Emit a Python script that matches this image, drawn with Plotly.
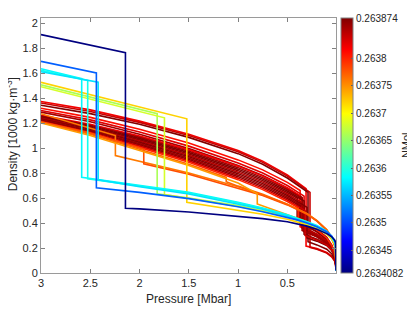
import plotly.graph_objects as go
from plotly.colors import sample_colorscale

NMOL_MIN = 0.2634082
NMOL_MAX = 0.263874

# ---- data: one entry per curve (NMol, pressure [Mbar], density [1000 kg/m3]) ----
# curves are listed in drawing order
curve_nmol = [
    0.26382, 0.26384, 0.263874, 0.26381, 0.26383, 0.26386,
    0.26382, 0.26386, 0.263874, 0.26387, 0.26385, 0.263874, 0.26386, 0.26387, 0.26384, 0.2638,
    0.26376, 0.26378, 0.26377, 0.263745,
    0.26372, 0.26366, 0.26368,
    0.26358, 0.26359, 0.26357,
    0.26351, 0.2634082,
]

curve_pressure = [
    [3, 2.5, 2, 1.5, 1, 0.75, 0.5, 0.4, 0.31, 0.31, 0.2, 0.1, 0.05, 0.02, 0.01, 0.006],
    [3, 2.5, 2, 1.5, 1, 0.75, 0.5, 0.4, 0.27, 0.27, 0.2, 0.1, 0.05, 0.02, 0.01, 0.006],
    [3, 2.5, 2, 1.5, 1, 0.75, 0.5, 0.4, 0.29, 0.29, 0.2, 0.1, 0.05, 0.02, 0.01, 0.006],
    [3, 2.5, 2, 1.5, 1, 0.75, 0.5, 0.4, 0.37, 0.37, 0.2, 0.1, 0.05, 0.02, 0.01, 0.006],
    [3, 2.5, 2, 1.5, 1, 0.75, 0.5, 0.4, 0.33, 0.33, 0.2, 0.1, 0.05, 0.02, 0.01, 0.006],
    [3, 2.5, 2, 1.5, 1, 0.75, 0.5, 0.4, 0.35, 0.35, 0.2, 0.1, 0.05, 0.02, 0.01, 0.006],
    [3, 2.5, 2, 1.5, 1, 0.75, 0.5, 0.4, 0.38, 0.38, 0.2, 0.1, 0.05, 0.02, 0.01, 0.006],
    [3, 2.5, 2, 1.5, 1, 0.75, 0.5, 0.4, 0.35, 0.35, 0.2, 0.1, 0.05, 0.02, 0.01, 0.006],
    [3, 2.5, 2, 1.5, 1, 0.75, 0.5, 0.4, 0.33, 0.33, 0.2, 0.1, 0.05, 0.02, 0.01, 0.006],
    [3, 2.5, 2, 1.5, 1, 0.75, 0.5, 0.4, 0.4, 0.4, 0.2, 0.1, 0.05, 0.02, 0.01, 0.006],
    [3, 2.5, 2, 1.5, 1, 0.75, 0.5, 0.4, 0.36, 0.36, 0.2, 0.1, 0.05, 0.02, 0.01, 0.006],
    [3, 2.5, 2, 1.5, 1, 0.75, 0.5, 0.4, 0.30, 0.30, 0.2, 0.1, 0.05, 0.02, 0.01, 0.006],
    [3, 2.5, 2, 1.5, 1, 0.75, 0.5, 0.4, 0.34, 0.34, 0.2, 0.1, 0.05, 0.02, 0.01, 0.006],
    [3, 2.5, 2, 1.5, 1, 0.75, 0.5, 0.4, 0.37, 0.37, 0.2, 0.1, 0.05, 0.02, 0.01, 0.006],
    [3, 2.5, 2, 1.5, 1, 0.75, 0.5, 0.4, 0.32, 0.32, 0.2, 0.1, 0.05, 0.02, 0.01, 0.006],
    [3, 2.5, 2, 1.5, 1, 0.75, 0.5, 0.4, 0.39, 0.39, 0.2, 0.1, 0.05, 0.02, 0.01, 0.006],
    [3, 2.5, 2.245, 2.245, 2, 1.5, 1, 0.75, 0.5, 0.4, 0.3, 0.2, 0.1, 0.05, 0.02, 0.01, 0.006],
    [3, 2.5, 1.957, 1.957, 1.5, 1, 0.75, 0.5, 0.4, 0.3, 0.2, 0.1, 0.05, 0.02, 0.01, 0.006],
    [3, 2.5, 2, 1.5, 1.12, 1.12, 1, 0.75, 0.5, 0.4, 0.3, 0.2, 0.1, 0.05, 0.02, 0.01, 0.006],
    [3, 2.5, 2, 1.5, 1, 0.805, 0.805, 0.5, 0.4, 0.3, 0.2, 0.1, 0.05, 0.02, 0.01, 0.006],
    [3, 2.5, 2, 1.52, 1.52, 1, 0.75, 0.5, 0.4, 0.3, 0.2, 0.1, 0.05, 0.02, 0.01, 0.006],
    [3, 2.5, 2, 1.821, 1.821, 1.5, 1, 0.75, 0.5, 0.4, 0.3, 0.2, 0.1, 0.05, 0.02, 0.01, 0.006],
    [3, 2.5, 2, 1.747, 1.747, 1.5, 1, 0.75, 0.5, 0.4, 0.3, 0.2, 0.1, 0.05, 0.02, 0.01, 0.006],
    [3, 2.587, 2.587, 2, 1.5, 1, 0.75, 0.5, 0.4, 0.3, 0.2, 0.1, 0.05, 0.02, 0.01, 0.006],
    [3, 2.526, 2.526, 2, 1.5, 1, 0.75, 0.5, 0.4, 0.3, 0.2, 0.1, 0.05, 0.02, 0.01, 0.006],
    [3, 2.42, 2.42, 2, 1.5, 1, 0.75, 0.5, 0.4, 0.3, 0.2, 0.1, 0.05, 0.02, 0.01, 0.006],
    [3, 2.438, 2.438, 2, 1.5, 1, 0.75, 0.5, 0.4, 0.3, 0.2, 0.1, 0.05, 0.02, 0.01, 0.006],
    [3, 2.143, 2.143, 2, 1.5, 1, 0.75, 0.5, 0.4, 0.3, 0.2, 0.1, 0.05, 0.02, 0.01, 0.006],
]

curve_density = [
    [1.372, 1.305, 1.215, 1.11, 0.98, 0.895, 0.785, 0.73, 0.675, 0.215, 0.195, 0.165, 0.135, 0.10, 0.07, 0.02],
    [1.36, 1.292, 1.205, 1.10, 0.97, 0.885, 0.775, 0.72, 0.645, 0.205, 0.19, 0.16, 0.13, 0.095, 0.065, 0.02],
    [1.342, 1.275, 1.19, 1.085, 0.955, 0.87, 0.76, 0.705, 0.645, 0.25, 0.225, 0.19, 0.155, 0.11, 0.075, 0.02],
    [1.318, 1.245, 1.15, 1.04, 0.905, 0.825, 0.725, 0.675, 0.66, 0.37, 0.31, 0.255, 0.2, 0.145, 0.1, 0.02],
    [1.30, 1.225, 1.128, 1.015, 0.88, 0.80, 0.70, 0.65, 0.615, 0.33, 0.29, 0.24, 0.19, 0.14, 0.095, 0.02],
    [1.287, 1.21, 1.11, 0.995, 0.86, 0.78, 0.68, 0.63, 0.605, 0.34, 0.295, 0.245, 0.195, 0.14, 0.095, 0.02],
    [1.262, 1.19, 1.095, 0.985, 0.855, 0.775, 0.68, 0.635, 0.625, 0.42, 0.33, 0.27, 0.215, 0.16, 0.11, 0.02],
    [1.256, 1.182, 1.085, 0.974, 0.843, 0.763, 0.668, 0.623, 0.598, 0.36, 0.30, 0.25, 0.20, 0.15, 0.10, 0.02],
    [1.250, 1.174, 1.075, 0.963, 0.831, 0.751, 0.656, 0.611, 0.576, 0.31, 0.27, 0.23, 0.185, 0.14, 0.095, 0.02],
    [1.244, 1.166, 1.065, 0.952, 0.819, 0.739, 0.644, 0.599, 0.599, 0.44, 0.35, 0.285, 0.225, 0.165, 0.115, 0.02],
    [1.238, 1.158, 1.055, 0.941, 0.807, 0.727, 0.632, 0.587, 0.567, 0.38, 0.31, 0.255, 0.205, 0.15, 0.10, 0.02],
    [1.232, 1.150, 1.045, 0.930, 0.795, 0.715, 0.620, 0.575, 0.525, 0.28, 0.255, 0.22, 0.18, 0.135, 0.09, 0.02],
    [1.226, 1.142, 1.035, 0.919, 0.783, 0.703, 0.608, 0.563, 0.533, 0.34, 0.29, 0.24, 0.195, 0.145, 0.10, 0.02],
    [1.220, 1.134, 1.025, 0.908, 0.771, 0.691, 0.596, 0.551, 0.536, 0.40, 0.33, 0.27, 0.215, 0.16, 0.11, 0.02],
    [1.214, 1.126, 1.015, 0.897, 0.759, 0.679, 0.584, 0.539, 0.499, 0.30, 0.265, 0.225, 0.185, 0.14, 0.095, 0.02],
    [1.208, 1.118, 1.005, 0.886, 0.747, 0.667, 0.572, 0.527, 0.522, 0.43, 0.345, 0.28, 0.22, 0.165, 0.115, 0.02],
    [1.274, 1.16, 1.10, 0.94, 0.895, 0.80, 0.69, 0.625, 0.55, 0.515, 0.475, 0.42, 0.345, 0.285, 0.225, 0.17, 0.02],
    [1.21, 1.12, 0.99, 0.873, 0.79, 0.68, 0.62, 0.545, 0.51, 0.47, 0.415, 0.34, 0.28, 0.22, 0.165, 0.02],
    [1.205, 1.11, 0.99, 0.87, 0.765, 0.73, 0.695, 0.63, 0.55, 0.515, 0.475, 0.42, 0.345, 0.285, 0.225, 0.17, 0.02],
    [1.20, 1.10, 0.98, 0.86, 0.72, 0.633, 0.553, 0.47, 0.44, 0.41, 0.37, 0.31, 0.27, 0.22, 0.17, 0.02],
    [1.525, 1.427, 1.33, 1.234, 0.566, 0.50, 0.47, 0.43, 0.41, 0.385, 0.355, 0.31, 0.275, 0.235, 0.205, 0.02],
    [1.505, 1.407, 1.309, 1.274, 0.633, 0.60, 0.54, 0.50, 0.455, 0.43, 0.40, 0.37, 0.325, 0.285, 0.245, 0.215, 0.02],
    [1.49, 1.39, 1.29, 1.242, 0.627, 0.598, 0.532, 0.495, 0.45, 0.425, 0.395, 0.365, 0.32, 0.28, 0.24, 0.21, 0.02],
    [1.634, 1.554, 0.766, 0.70, 0.645, 0.565, 0.52, 0.465, 0.44, 0.41, 0.38, 0.335, 0.295, 0.255, 0.225, 0.02],
    [1.621, 1.541, 0.753, 0.695, 0.64, 0.56, 0.515, 0.46, 0.435, 0.405, 0.375, 0.33, 0.29, 0.25, 0.22, 0.02],
    [1.61, 1.527, 0.745, 0.69, 0.632, 0.553, 0.51, 0.455, 0.43, 0.40, 0.37, 0.327, 0.288, 0.25, 0.22, 0.02],
    [1.693, 1.60, 0.681, 0.645, 0.595, 0.53, 0.49, 0.445, 0.425, 0.40, 0.37, 0.33, 0.295, 0.26, 0.235, 0.02],
    [1.907, 1.763, 0.518, 0.513, 0.488, 0.456, 0.435, 0.41, 0.395, 0.375, 0.35, 0.315, 0.29, 0.265, 0.245, 0.02],
]

x_tick_values = [3, 2.5, 2, 1.5, 1, 0.5]
x_tick_labels = ["3", "2.5", "2", "1.5", "1", "0.5"]
cbar_tick_values = [0.2634082, 0.26345, 0.2635, 0.26355, 0.2636, 0.26365, 0.2637, 0.26375, 0.2638, 0.263874]
cbar_tick_labels = ["0.2634082", "0.26345", "0.2635", "0.26355", "0.2636", "0.26365", "0.2637", "0.26375", "0.2638", "0.263874"]

# MATLAB-style jet colormap
jet = [
    [0.0, "rgb(0,0,128)"],
    [0.125, "rgb(0,0,255)"],
    [0.375, "rgb(0,255,255)"],
    [0.625, "rgb(255,255,0)"],
    [0.875, "rgb(255,0,0)"],
    [1.0, "rgb(128,0,0)"],
]

FONT = "Liberation Sans, Arial, Helvetica, sans-serif"
TXT = "#262626"

fig = go.Figure()

for i in range(len(curve_nmol)):
    frac = (curve_nmol[i] - NMOL_MIN) / (NMOL_MAX - NMOL_MIN)
    frac = min(max(frac, 0.0), 1.0)
    col = sample_colorscale(jet, [frac])[0]
    fig.add_trace(go.Scatter(
        x=curve_pressure[i], y=curve_density[i], mode="lines",
        line=dict(color=col, width=1.6), hoverinfo="skip", showlegend=False,
    ))

# colour bar
fig.add_trace(go.Scatter(
    x=[None], y=[None], mode="markers", showlegend=False, hoverinfo="skip",
    marker=dict(
        color=[NMOL_MIN], cmin=NMOL_MIN, cmax=NMOL_MAX, colorscale=jet, showscale=True,
        colorbar=dict(
            x=1.018, xanchor="left", xpad=0, y=0.5, yanchor="middle", ypad=0,
            len=1.0, lenmode="fraction", thickness=12,
            outlinecolor="#808080", outlinewidth=1,
            tickvals=cbar_tick_values, ticktext=cbar_tick_labels,
            ticks="inside", ticklen=2, tickcolor="#606060",
            tickfont=dict(family=FONT, size=10, color=TXT),
        ),
    ),
))

axis_common = dict(
    showline=True, linecolor="#9a9a9a", linewidth=1, mirror="ticks",
    ticks="inside", ticklen=4, tickcolor="#808080", tickwidth=1,
    showgrid=False, zeroline=False,
    tickfont=dict(family=FONT, size=11, color=TXT),
)

# the page body adds an 8 px offset, so the figure is sized to fit the 415x310 window
fig.update_layout(
    width=407, height=302,
    margin=dict(l=33, r=79, t=10, b=37, pad=0, autoexpand=False),
    paper_bgcolor="white", plot_bgcolor="white",
    showlegend=False,
    xaxis=dict(range=[3, 0.006], tickvals=x_tick_values, ticktext=x_tick_labels, **axis_common),
    yaxis=dict(range=[0, 2.04], tick0=0, dtick=0.2, **axis_common),
    annotations=[
        dict(text="Pressure [Mbar]", xref="paper", yref="paper", x=0.5, y=-0.1035,
             xanchor="center", yanchor="middle", showarrow=False,
             font=dict(family=FONT, size=12, color=TXT)),
        dict(text="Density [1000 kg·m<sup>-3</sup>]", xref="paper", yref="paper",
             x=-0.0993, y=0.543, xanchor="center", yanchor="middle", textangle=-90,
             showarrow=False, font=dict(family=FONT, size=12, color=TXT)),
        dict(text="NMol", xref="paper", yref="paper", x=1.236, y=0.5,
             xanchor="center", yanchor="middle", textangle=-90, showarrow=False,
             font=dict(family=FONT, size=11, color=TXT)),
    ],
)

fig.write_html("out.html")
